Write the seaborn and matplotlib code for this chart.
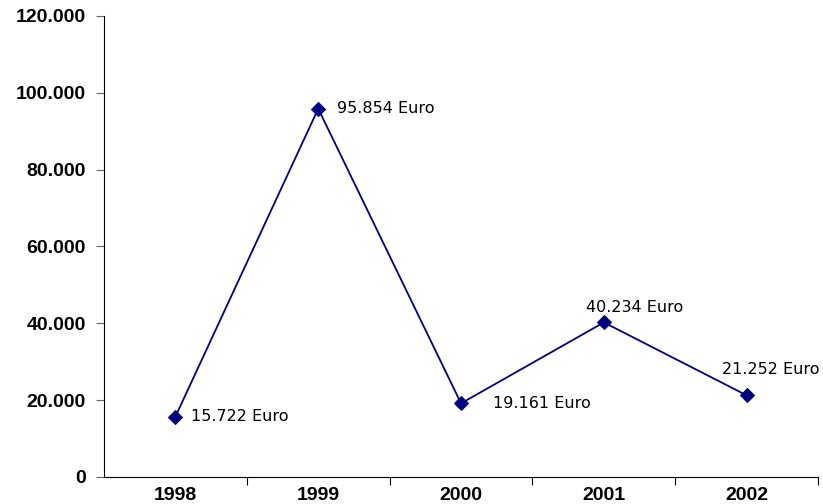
import seaborn as sns
import numpy as np
import pandas as pd
import matplotlib.pyplot as plt
from matplotlib.ticker import FuncFormatter

years = ['1998', '1999', '2000', '2001', '2002']
amounts = [15722, 95854, 19161, 40234, 21252]
labels = ['15.722 Euro', '95.854 Euro', '19.161 Euro', '40.234 Euro', '21.252 Euro']

df = pd.DataFrame({'pos': np.arange(len(years)), 'amount': amounts})

# label placement (pixels from the point) and alignment
label_style = [((16, 0), 'left'), ((19, 0), 'left'), ((32, 0), 'left'),
               ((31, 15), 'center'), ((24, 26), 'center')]

sns.set_style('white')
plt.rcParams['font.family'] = ['Liberation Sans', 'DejaVu Sans']

fig = plt.figure(figsize=(8.23, 5.04), dpi=100)
ax = fig.add_axes([0.1264, 0.0536, 0.8676, 0.9148])

sns.lineplot(data=df, x='pos', y='amount', ax=ax, color='#000080', lw=1.3,
             marker='D', markersize=7, markeredgecolor='#000080')

for x, y, txt, (off, ha) in zip(df['pos'], df['amount'], labels, label_style):
    ax.annotate(txt, (x, y), xytext=off, textcoords='offset pixels',
                ha=ha, va='center', fontsize=11.5, family='DejaVu Sans', color='black')

ax.set_xlim(-0.5, 4.5)
ax.set_ylim(0, 120000)
ax.set_yticks(range(0, 120001, 20000))
ax.yaxis.set_major_formatter(FuncFormatter(lambda v, _: f'{int(v):,}'.replace(',', '.')))
ax.set_xticks(df['pos'])
ax.set_xticklabels(years)
# category boundaries get the tick marks, like Excel
ax.set_xticks(np.arange(len(years)) + 0.5, minor=True)
ax.tick_params(axis='x', which='major', bottom=True, length=0, pad=7)
ax.tick_params(axis='x', which='minor', bottom=True, length=6, width=0.8, direction='out', color='black')
ax.tick_params(axis='y', left=True, length=6, width=0.8, direction='out', color='#666666', pad=7)
for lbl in ax.get_xticklabels() + ax.get_yticklabels():
    lbl.set_fontweight('bold')
    lbl.set_fontsize(14)
    lbl.set_color('black')

ax.set_xlabel('')
ax.set_ylabel('')
sns.despine(ax=ax)
ax.spines['left'].set_color('black')
ax.spines['bottom'].set_color('black')

fig.savefig('out.png', dpi=100)
